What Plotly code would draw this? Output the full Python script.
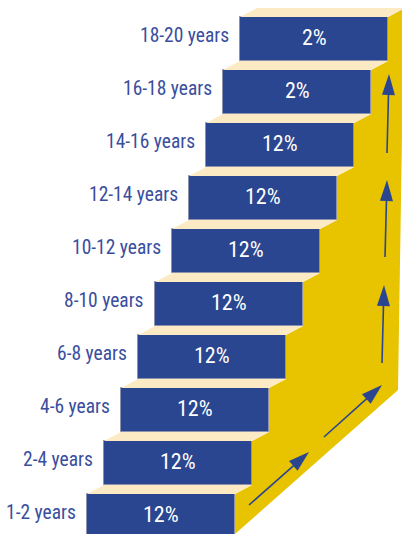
import plotly.graph_objects as go

# Age bands (bottom step first) and the share shown on each step
age_groups = ["1-2 years", "2-4 years", "4-6 years", "6-8 years", "8-10 years",
              "10-12 years", "12-14 years", "14-16 years", "16-18 years", "18-20 years"]
shares = [12, 12, 12, 12, 12, 12, 12, 12, 2, 2]

# Staircase geometry (pixel units on a 402 x 534 canvas, y grows downwards)
W, H = 402, 534
X0, TOP0 = 87, 494          # front face of the lowest step
STEP_DX, STEP_DY = 17, 53   # offset from one step to the next
BOX_W, BOX_H = 148, 44      # front face size
TREAD_DX, TREAD_DY = 17, 9  # depth of each tread

BLUE = "#2A4690"
CREAM = "#FCEAC4"
YELLOW = "#E7C300"
LABEL = "#3A4E9E"
EDGE = "#8C92AE"
FONT = "Roboto Condensed, DejaVu Sans Condensed, sans-serif"

# Side-face outline and the arrows painted on it
SIDE_RIGHT = [(404, 7), (398, 390)]
SIDE_FOOT = (X0 + BOX_W, H)
arrows = [((249, 505), (309, 452)),
          ((324, 437), (382, 385)),
          ((382, 363), (384, 285)),
          ((385, 257), (387, 180)),
          ((387, 153), (389, 74))]

n = len(age_groups)
lefts = [X0 + i * STEP_DX for i in range(n)]
rights = [l + BOX_W for l in lefts]
tops = [TOP0 - i * STEP_DY for i in range(n)]

fig = go.Figure()

# yellow side face: zig-zag along the right edges of the steps
sx, sy = [SIDE_FOOT[0]], [SIDE_FOOT[1]]
for i in range(n):
    sx += [rights[i], rights[i] + TREAD_DX]
    sy += [tops[i], tops[i] - TREAD_DY]
for px, py in SIDE_RIGHT:
    sx.append(px)
    sy.append(py)
sx.append(SIDE_FOOT[0])
sy.append(SIDE_FOOT[1])
fig.add_trace(go.Scatter(x=sx, y=sy, fill="toself", fillcolor=YELLOW,
                         mode="lines", line=dict(width=0), hoverinfo="skip"))

# cream treads
for i in range(n):
    l, r, t = lefts[i], rights[i], tops[i]
    fig.add_trace(go.Scatter(
        x=[l, r, r + TREAD_DX, l + TREAD_DX, l],
        y=[t, t, t - TREAD_DY, t - TREAD_DY, t],
        fill="toself", fillcolor=CREAM, mode="lines", line=dict(width=0),
        hoverinfo="skip"))

# blue front faces
fig.add_trace(go.Bar(
    orientation="h",
    base=lefts,
    x=[BOX_W] * n,
    y=[t + BOX_H / 2 for t in tops],
    width=BOX_H,
    marker=dict(color=BLUE, line=dict(color=EDGE, width=1)),
    hoverinfo="skip"))

# arrows on the side face
for (x1, y1), (x2, y2) in arrows:
    dx, dy = x2 - x1, y2 - y1
    length = (dx * dx + dy * dy) ** 0.5
    ux, uy = dx / length, dy / length
    head_len, head_w = 21, 6.5
    bx, by = x2 - ux * head_len, y2 - uy * head_len
    fig.add_trace(go.Scatter(x=[x1, bx + ux * 2], y=[y1, by + uy * 2], mode="lines",
                             line=dict(color=BLUE, width=1.6), hoverinfo="skip"))
    fig.add_trace(go.Scatter(
        x=[x2, bx - uy * head_w, bx + uy * head_w, x2],
        y=[y2, by + ux * head_w, by - ux * head_w, y2],
        fill="toself", fillcolor=BLUE, mode="lines", line=dict(width=0),
        hoverinfo="skip"))

annotations = []
for i in range(n):
    cy = tops[i] + BOX_H / 2
    annotations.append(dict(
        x=lefts[i] - 9, y=cy - 3.5, text=age_groups[i], showarrow=False,
        xanchor="right", yanchor="middle",
        font=dict(family=FONT, size=19.5, color=LABEL)))
    annotations.append(dict(
        x=lefts[i] + BOX_W / 2, y=cy - 2, text=f"{shares[i]}%", showarrow=False,
        xanchor="center", yanchor="middle",
        font=dict(family=FONT, size=22, color="white")))

fig.update_layout(
    width=W, height=H,
    margin=dict(l=0, r=0, t=0, b=0),
    paper_bgcolor="white", plot_bgcolor="white",
    showlegend=False,
    bargap=0,
    xaxis=dict(range=[0, W], visible=False, fixedrange=True),
    yaxis=dict(range=[H, 0], visible=False, fixedrange=True),
    annotations=annotations,
)

fig.write_html("out.html", config={"displayModeBar": False})
